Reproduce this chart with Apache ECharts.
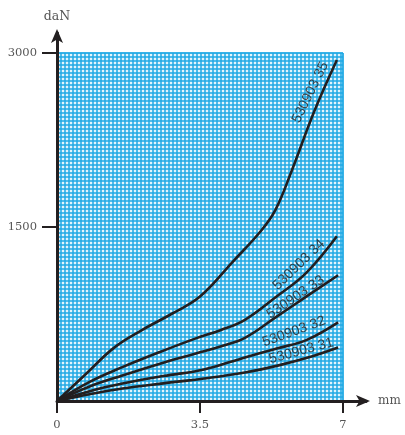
<!DOCTYPE html>
<html>
<head>
<meta charset="utf-8">
<script src="https://cdn.jsdelivr.net/npm/echarts@6/dist/echarts.min.js"></script>
<style>html,body{margin:0;padding:0;background:#fff}#c{width:405px;height:435px}</style>
</head>
<body>
<div id="c"></div>
<script>
// ---- data ----
const xTicks = [0, 3.5, 7];
const yTicks = [1500, 3000];
const xLabels = ['0', '3.5', '7'];
const yLabels = ['1500', '3000'];
const seriesNames = ['530903 35', '530903 34', '530903 33', '530903 32', '530903 31'];
const s35 = [[0,0],[0.7,230],[1.4,460],[2.1,615],[2.8,750],[3.5,900],[4.3,1200],[5.0,1470],[5.35,1650],[5.75,1990],[6.3,2500],[6.85,2940]];
const s34 = [[0,0],[0.8,165],[1.6,292],[2.5,420],[3.4,540],[4.0,610],[4.6,700],[5.35,894],[6.1,1105],[6.85,1420]];
const s33 = [[0,0],[0.8,125],[1.6,220],[2.5,320],[3.4,410],[4.0,470],[4.6,545],[5.35,721],[6.1,900],[6.88,1084]];
const s32 = [[0,0],[0.8,85],[1.6,150],[2.6,215],[3.6,272],[4.6,376],[5.4,455],[6.1,525],[6.88,678]];
const s31 = [[0,0],[0.8,58],[1.6,108],[2.6,152],[3.6,194],[4.6,246],[5.4,305],[6.1,370],[6.88,462]];
const labelPos = [[6.2,2660],[5.92,1175],[5.84,895],[5.8,598],[5.98,432]];
const labelAngle = [64, 44, 34, 20, 15];

// ---- layout ----
const L = 57, B = 34, W = 286, H = 348;  // plot area for 0..7 mm, 0..3000 daN
const axisEndX = 366, axisEndY = 33;
const xMax = 7 * (axisEndX - L) / W;
const yMax = 3000 * (435 - B - axisEndY) / H;

const chart = echarts.init(document.getElementById('c'), null, {renderer: 'canvas'});
const lineCol = '#231f20';
const curves = [s35, s34, s33, s32, s31].map((d, i) => ({
  type: 'line', name: seriesNames[i], xAxisIndex: 0, yAxisIndex: 0,
  data: d, smooth: 0.4, symbol: 'none',
  lineStyle: {color: lineCol, width: 2.6}, z: 5
}));
const labelSeries = {
  type: 'scatter', xAxisIndex: 0, yAxisIndex: 0, symbolSize: 0, z: 6,
  data: labelPos.map((p, i) => ({
    value: p, name: seriesNames[i],
    label: {rotate: labelAngle[i]}
  })),
  label: {
    show: true, position: 'inside', formatter: '{b}',
    fontFamily: 'Liberation Sans', fontSize: 14, color: '#231f20'
  },
  silent: true
};
const tickFont = {fontFamily: 'DejaVu Serif', fontSize: 11.5, color: '#555'};
const gridLine = {color: '#1fa8e4', width: 1.5};

chart.setOption({
  animation: false,
  backgroundColor: '#ffffff',
  grid: [
    {left: L, bottom: B, width: W, height: H, show: true, backgroundColor: '#e2f4fc', borderWidth: 1, borderColor: '#1aa6e2'},
    {left: L, bottom: B, width: axisEndX - L, height: 435 - B - axisEndY, show: false}
  ],
  xAxis: [
    {
      type: 'value', gridIndex: 1, min: 0, max: xMax,
      axisLine: {show: true, lineStyle: {color: lineCol, width: 3}, symbol: ['none', 'arrow'], symbolSize: [9, 14], symbolOffset: [0, 4]},
      axisTick: {show: true, customValues: xTicks, length: 12, lineStyle: {color: lineCol, width: 2}},
      axisLabel: {show: true, customValues: xTicks, margin: 18, formatter: v => xLabels[xTicks.indexOf(v)] ?? '', ...tickFont},
      splitLine: {show: false},
      name: 'mm', nameLocation: 'end', nameGap: 12, nameTextStyle: {fontFamily: 'DejaVu Serif', fontSize: 12, color: '#555'}
    },
    {
      type: 'value', gridIndex: 0, min: 0, max: 71.5, interval: 1,
      axisLine: {show: false}, axisTick: {show: false}, axisLabel: {show: false},
      splitLine: {show: true, lineStyle: gridLine}
    }
  ],
  yAxis: [
    {
      type: 'value', gridIndex: 1, min: 0, max: yMax,
      axisLine: {show: true, lineStyle: {color: lineCol, width: 3}, symbol: ['none', 'arrow'], symbolSize: [9, 14], symbolOffset: [0, 4]},
      axisTick: {show: true, customValues: yTicks, length: 15, lineStyle: {color: lineCol, width: 2}},
      axisLabel: {show: true, customValues: yTicks, margin: 20, formatter: v => yLabels[yTicks.indexOf(v)] ?? '', ...tickFont},
      splitLine: {show: false},
      name: 'daN', nameLocation: 'end', nameGap: 10, nameTextStyle: {fontFamily: 'DejaVu Serif', fontSize: 12.5, color: '#555', align: 'center'}
    },
    {
      type: 'value', gridIndex: 0, min: 0, max: 87, interval: 1,
      axisLine: {show: false}, axisTick: {show: false}, axisLabel: {show: false},
      splitLine: {show: true, lineStyle: gridLine}
    }
  ],
  series: [...curves, labelSeries]
});
</script>
</body>
</html>
